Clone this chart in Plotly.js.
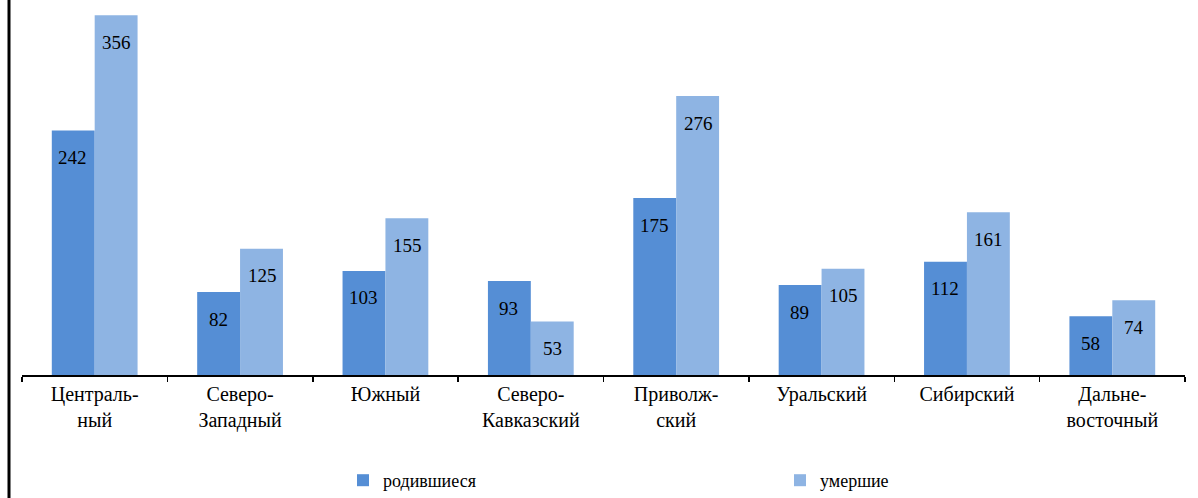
<!DOCTYPE html>
<html>
<head>
<meta charset="utf-8">
<script src="https://cdn.plot.ly/plotly-3.0.1.min.js"></script>
<style>
  html, body { margin: 0; padding: 0; background: #fff; }
  #chart { width: 1198px; height: 498px; }
</style>
</head>
<body>
<div id="chart"></div>
<script>
const categories = [
  'Централь-<br>ный', 'Северо-<br>Западный', 'Южный', 'Северо-<br>Кавказский',
  'Приволж-<br>ский', 'Уральский', 'Сибирский', 'Дальне-<br>восточный'
];
const born = [242, 82, 103, 93, 175, 89, 112, 58];
const died = [356, 125, 155, 53, 276, 105, 161, 74];
const seriesNames = ['родившиеся', 'умершие'];
const colors = ['#558ED5', '#8EB4E3'];

const serif = 'Liberation Serif';

const traces = [
  { type: 'bar', name: seriesNames[0], x: categories, y: born,
    marker: { color: colors[0] }, hoverinfo: 'y' },
  { type: 'bar', name: seriesNames[1], x: categories, y: died,
    marker: { color: colors[1] }, hoverinfo: 'y' }
];

const annotations = [];
[born, died].forEach((arr, si) => {
  arr.forEach((v, i) => {
    annotations.push({
      x: categories[i], y: v, xref: 'x', yref: 'y',
      xshift: si === 0 ? -22 : 22, yshift: -27,
      text: String(v), showarrow: false,
      xanchor: 'center', yanchor: 'middle',
      font: { family: serif, size: 19, color: '#000' }
    });
  });
});

const layout = {
  width: 1198, height: 498,
  margin: { l: 22, r: 13, t: 0, b: 123, autoexpand: false },
  paper_bgcolor: '#fff', plot_bgcolor: '#fff',
  barmode: 'group', bargap: 0.41, bargroupgap: 0,
  font: { family: serif, color: '#000' },
  xaxis: {
    type: 'category',
    showline: true, linecolor: '#000', linewidth: 1.5,
    ticks: 'outside', tickson: 'boundaries', ticklen: 5, tickcolor: '#000', tickwidth: 1.5,
    tickfont: { family: serif, size: 20, color: '#000' },
    showgrid: false, zeroline: false, fixedrange: true
  },
  yaxis: { visible: false, range: [0, 371], fixedrange: true },
  showlegend: true,
  legend: {
    orientation: 'h', x: 0.276, xanchor: 'left', y: -0.232, yanchor: 'top',
    entrywidth: 392, entrywidthmode: 'pixels',
    font: { family: serif, size: 18, color: '#000' },
    itemwidth: 30
  },
  annotations: annotations,
  shapes: [{
    type: 'line', xref: 'paper', yref: 'paper',
    x0: -13/1163, x1: -13/1163, y0: -123/375, y1: 1,
    line: { color: '#000', width: 3 }
  }]
};

Plotly.newPlot('chart', traces, layout, { displayModeBar: false, staticPlot: true });
</script>
</body>
</html>
